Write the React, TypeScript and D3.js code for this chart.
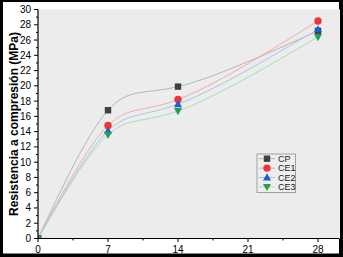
import React from "react";
import * as d3 from "d3";

const days = [0, 7, 14, 28];
const seriesNames = ["CP", "CE1", "CE2", "CE3"];
const cpValues = [0, 16.8, 19.9, 27.2];
const ce1Values = [0, 14.8, 18.2, 28.5];
const ce2Values = [0, 14.1, 17.6, 27.4];
const ce3Values = [0, 13.6, 16.7, 26.4];
const xTicks = [0, 7, 14, 21, 28];
const yTicks = d3.range(0, 31, 2);

const W = 343, H = 257;
const left = 38, right = 338, top = 9.5, bottom = 238.5;

const series = [
  { name: seriesNames[0], values: cpValues, line: "#b4b4b4", mark: "#404040", shape: "square" },
  { name: seriesNames[1], values: ce1Values, line: "#f2a8a8", mark: "#f03434", shape: "circle" },
  { name: seriesNames[2], values: ce2Values, line: "#a8c4ec", mark: "#1c5fd4", shape: "up" },
  { name: seriesNames[3], values: ce3Values, line: "#a8dcb8", mark: "#22a050", shape: "down" },
];

function Marker({ shape, x, y, color }: { shape: string; x: number; y: number; color: string }) {
  if (shape === "square") return <rect x={x - 3.2} y={y - 3.2} width={6.4} height={6.4} fill={color} />;
  if (shape === "circle") return <circle cx={x} cy={y} r={3.7} fill={color} />;
  if (shape === "up")
    return <path d={`M${x},${y - 4.2}L${x + 4},${y + 3}L${x - 4},${y + 3}Z`} fill={color} />;
  return <path d={`M${x},${y + 4.2}L${x + 4},${y - 3}L${x - 4},${y - 3}Z`} fill={color} />;
}

export default function App() {
  const x = d3.scaleLinear().domain([0, 30]).range([left, right]);
  const y = d3.scaleLinear().domain([0, 30]).range([bottom, top]);
  const line = d3
    .line<number>()
    .x((_, i) => x(days[i]))
    .y((d) => y(d))
    .curve(d3.curveNatural);
  const font = "Arial, 'Liberation Sans', sans-serif";
  const minorX = d3.range(3.5, 30, 7);
  const minorY = d3.range(1, 30, 2);
  const lgX = 257, lgY = 154;
  return (
    <svg width={W} height={H} style={{ position: "absolute", left: 0, top: 0 }} fontFamily={font}>
      <defs>
        <clipPath id="plotClip">
          <rect x={left} y={top - 6} width={right - left + 2} height={bottom - top + 6} />
        </clipPath>
      </defs>
      <rect x={0} y={0} width={W} height={H} fill="#000" />
      <rect x={3} y={2} width={336} height={251.5} fill="#fff" />
      <rect x={left} y={top} width={right - left + 2} height={bottom - top} fill="#ececec" />
      <g clipPath="url(#plotClip)">
        {series.map((s) => (
          <path key={s.name} d={line(s.values) || ""} fill="none" stroke={s.line} strokeWidth={1} />
        ))}
        {series.map((s) =>
          s.values.map((v, i) => (
            <Marker key={s.name + i} shape={s.shape} x={x(days[i])} y={y(v)} color={s.mark} />
          ))
        )}
      </g>
      {/* axes */}
      <line x1={left} x2={left} y1={top} y2={bottom} stroke="#000" strokeWidth={1.2} />
      <line x1={left} x2={right + 1} y1={bottom} y2={bottom} stroke="#000" strokeWidth={1.2} />
      {yTicks.map((t) => (
        <g key={"y" + t}>
          <line x1={left - 4} x2={left} y1={y(t)} y2={y(t)} stroke="#000" strokeWidth={1} />
          <text x={left - 7} y={y(t) + 3.5} fontSize={10} textAnchor="end" fill="#000">
            {t}
          </text>
        </g>
      ))}
      {minorY.map((t) => (
        <line key={"my" + t} x1={left - 2} x2={left} y1={y(t)} y2={y(t)} stroke="#000" strokeWidth={1} />
      ))}
      {xTicks.map((t) => (
        <g key={"x" + t}>
          <line x1={x(t)} x2={x(t)} y1={bottom} y2={bottom + 3.5} stroke="#000" strokeWidth={1} />
          <text x={x(t)} y={253} fontSize={10} textAnchor="middle" fill="#000">
            {t}
          </text>
        </g>
      ))}
      {minorX.map((t) => (
        <line key={"mx" + t} x1={x(t)} x2={x(t)} y1={bottom} y2={bottom + 2} stroke="#000" strokeWidth={1} />
      ))}
      <text
        transform={`translate(17.5,${(top + bottom) / 2}) rotate(-90)`}
        textAnchor="middle"
        fontSize={12}
        fontWeight="bold"
        fill="#000"
      >
        Resistencia a compresión (MPa)
      </text>
      {/* legend */}
      <rect x={lgX} y={lgY} width={38.5} height={38.5} fill="#eeeeee" stroke="#a0a0a0" strokeWidth={1} />
      {series.map((s, i) => {
        const cy = lgY + 4.7 + i * 9.4;
        return (
          <g key={"lg" + s.name}>
            <line x1={lgX + 2} x2={lgX + 18} y1={cy} y2={cy} stroke={s.line} strokeWidth={1} />
            <Marker shape={s.shape} x={lgX + 10} y={cy} color={s.mark} />
            <text x={lgX + 21} y={cy + 3.3} fontSize={9} fill="#222">
              {s.name}
            </text>
          </g>
        );
      })}
    </svg>
  );
}
